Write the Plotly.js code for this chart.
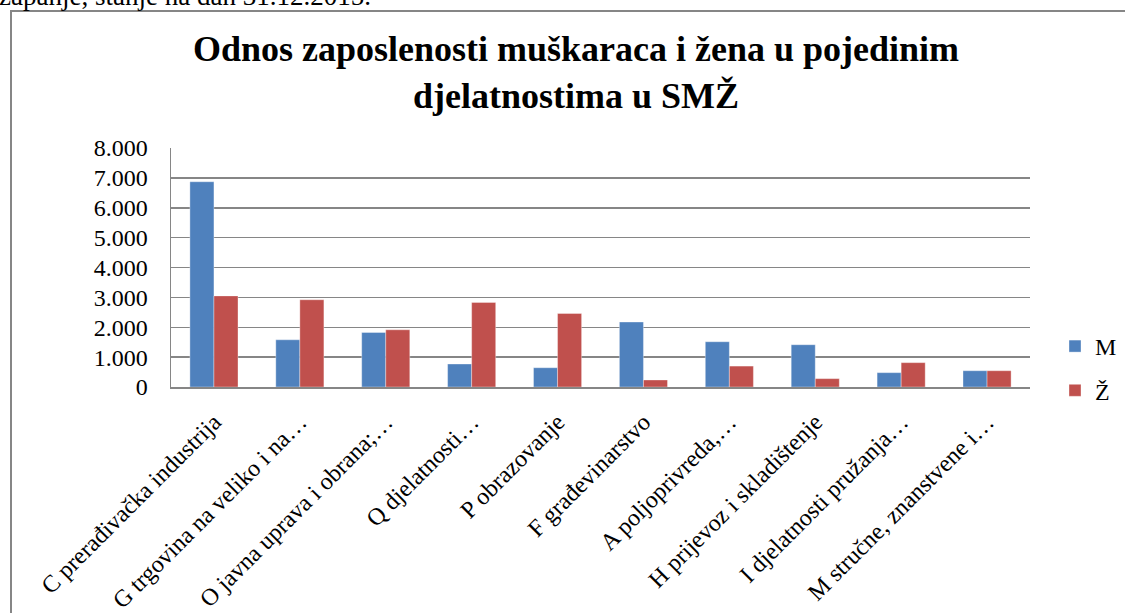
<!DOCTYPE html>
<html>
<head>
<meta charset="utf-8">
<script src="https://cdn.plot.ly/plotly-3.0.1.min.js"></script>
<style>
html,body{margin:0;padding:0;background:#fff;}
#chart{width:1125px;height:613px;}
</style>
</head>
<body>
<div id="chart"></div>
<script>
const categories = [
  "C prerađivačka industrija",
  "G trgovina na veliko i na…",
  "O javna uprava i obrana;…",
  "Q djelatnosti…",
  "P obrazovanje",
  "F građevinarstvo",
  "A poljoprivreda,…",
  "H prijevoz i skladištenje",
  "I djelatnosti pružanja…",
  "M stručne, znanstvene i…"
];
const valuesM = [6870, 1580, 1825, 770, 645, 2175, 1515, 1415, 480, 545];
const valuesZ = [3050, 2920, 1915, 2830, 2460, 235, 700, 280, 815, 545];
const seriesNames = ["M", "Ž"];
const yTickVals = [0, 1000, 2000, 3000, 4000, 5000, 6000, 7000, 8000];
const titleText = "Odnos zaposlenosti muškaraca i žena u pojedinim<br>djelatnostima u SMŽ";
const captionText = "zapanje, stanje na dan 31.12.2015.";

const W = 1125, H = 613;
const L = 171, R = 1030, T = 148, B = 387;
const px = x => (x - L) / (R - L);
const py = y => (B - y) / (B - T);

const serif = "Liberation Serif, Times New Roman, serif";

const traces = [
  {
    type: "bar", name: seriesNames[0], x: categories, y: valuesM,
    legendgroup: "m",
    marker: {color: "#4F81BD", line: {color: "rgba(255,255,255,0.35)", width: 1}}
  },
  {
    type: "bar", name: seriesNames[1], x: categories, y: valuesZ,
    legendgroup: "z",
    marker: {color: "#C0504D", line: {color: "rgba(255,255,255,0.35)", width: 1}}
  }
];

const layout = {
  width: W, height: H,
  margin: {l: L, r: W - R, t: T, b: H - B, pad: 0, autoexpand: false},
  paper_bgcolor: "#fff", plot_bgcolor: "#fff",
  separators: ",.",
  font: {family: serif, color: "#000", size: 20},
  title: {
    text: titleText,
    font: {family: serif, size: 36, color: "#000", weight: "bold"},
    x: 576 / W, xanchor: "center",
    y: 1 - 61 / H, yanchor: "top", yref: "container"
  },
  barmode: "group",
  bargap: 0.44, bargroupgap: 0,
  showlegend: true,
  legend: {
    x: px(1055), xanchor: "left",
    y: py(324), yanchor: "top",
    font: {family: serif, size: 24, color: "#000"},
    traceorder: "grouped", tracegroupgap: 10,
    bgcolor: "rgba(0,0,0,0)", itemwidth: 30
  },
  xaxis: {
    type: "category",
    tickangle: -45,
    tickfont: {family: serif, size: 24, color: "#000"},
    showline: true, linecolor: "#868686", linewidth: 1.5,
    showgrid: false, ticks: "", ticklabelstandoff: 10,
    automargin: false
  },
  yaxis: {
    range: [0, 8000],
    tickvals: yTickVals,
    tickformat: ",d",
    tickfont: {family: serif, size: 24, color: "#000"},
    showgrid: true, gridcolor: "#868686", gridwidth: 1.5,
    showline: true, linecolor: "#868686", linewidth: 1.5,
    zeroline: false, ticks: "", ticklabelstandoff: 17,
    automargin: false
  },
  shapes: [
    {type: "rect", xref: "paper", yref: "paper",
     x0: px(11), x1: px(1200), y0: py(700), y1: py(11),
     line: {color: "#868686", width: 2}, fillcolor: "rgba(0,0,0,0)", layer: "below"}
  ],
  annotations: [
    {text: captionText, xref: "paper", yref: "paper",
     x: px(-3), xanchor: "left", y: py(13), yanchor: "bottom",
     showarrow: false, font: {family: serif, size: 27, color: "#000"}}
  ]
};

Plotly.newPlot("chart", traces, layout, {displayModeBar: false, staticPlot: true});
</script>
</body>
</html>
